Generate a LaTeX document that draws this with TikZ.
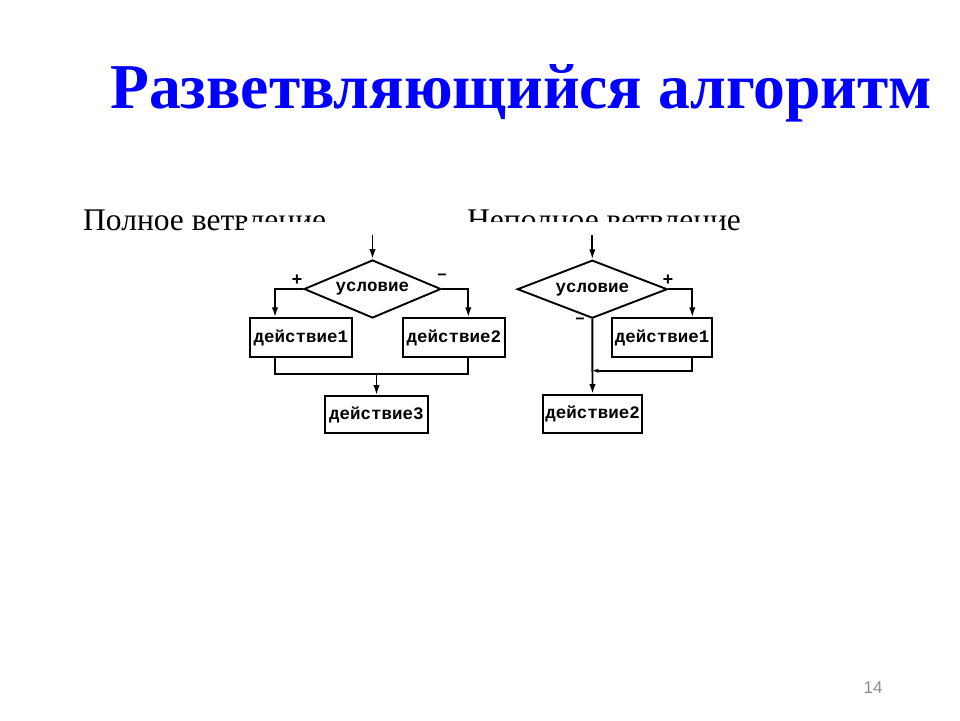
\documentclass[tikz,border=0pt]{standalone}
\usepackage{fontspec}
\setmainfont{Liberation Serif}
\newfontfamily\monof{Liberation Mono}
\newfontfamily\sansf{Liberation Sans}
\usetikzlibrary{shapes.geometric,arrows.meta}
\definecolor{titleblue}{RGB}{0,0,255}
\definecolor{pagegray}{RGB}{140,140,140}
\tikzset{
  lw/.style={line width=1.9pt},
  box/.style={draw,lw,inner sep=0pt,font=\monof\bfseries\fontsize{17.5}{18}\selectfont},
  dia/.style={draw,lw,diamond,inner sep=0pt,font=\monof\bfseries\fontsize{17.5}{18}\selectfont},
  arr/.style={lw,-{Latex[length=10pt,width=6.5pt]}},
  arrs/.style={lw,-{Latex[length=6pt,width=4.5pt]}},
  sign/.style={inner sep=0pt,font=\monof\bfseries\fontsize{18}{18}\selectfont},
  lbl/.style={anchor=base west,inner sep=0pt,font=\fontsize{31.5}{33}\selectfont}
}
\begin{document}
\begin{tikzpicture}[x=1pt,y=-1pt]
\useasboundingbox (0,0) rectangle (960,720);
\fill[white] (0,0) rectangle (960,720);
% title
\node[anchor=base west,inner sep=0pt,text=titleblue] (title) at (110,108)
  {\resizebox{822pt}{44pt}{\fontsize{65}{65}\selectfont\bfseries Разветвляющийся алгоритм}};
% section labels
\node[lbl] (l1) at (83,230) {Полное ветвление};
\node[lbl] (l2) at (467,230) {Неполное ветвление};
% white cover of the pasted picture
\fill[white] (244,222) rectangle (721,245);
% ---- full branching
\coordinate (in1) at (372.5,235);
\node[dia,aspect=2.36,minimum width=137pt,minimum height=58pt] (c1) at (372.5,289) {условие};
\node[box,minimum width=101.7pt,minimum height=38.5pt] (a1) at (300.8,337.5) {действие1};
\node[box,minimum width=101.7pt,minimum height=38.5pt] (a2) at (453.8,337.5) {действие2};
\node[box,minimum width=103pt,minimum height=37pt] (a3) at (376.5,414.5) {действие3};
\coordinate (m1) at (376.5,374);
\draw[arr] (in1) -- (c1.north);
\draw[arr] (c1.west) -| ([xshift=-25.8pt]a1.north);
\draw[arr] (c1.east) -| ([xshift=14.5pt]a2.north);
\draw[lw] ([xshift=-25.8pt]a1.south) |- (m1) -| ([xshift=14.5pt]a2.south);
\draw[arr] (m1) -- (a3.north);
\node[sign] (p1) at (297,280) {+};
\node[sign] (n1) at (442,277) {–};
% ---- partial branching
\coordinate (in2) at (592.3,235);
\node[dia,aspect=2.59,minimum width=150pt,minimum height=58pt] (c2) at (592.3,289.2) {условие};
\node[box,minimum width=100.6pt,minimum height=38.5pt] (b1) at (662,337.5) {действие1};
\node[box,minimum width=98.4pt,minimum height=37.7pt] (b2) at (592.5,413.8) {действие2};
\coordinate (j2) at (592.3,370.7);
\draw[arr] (in2) -- (c2.north);
\draw[arr] (c2.east) -| ([xshift=30.3pt]b1.north);
\draw[arr] (c2.south) -- (b2.north);
\draw[arrs] ([xshift=30.3pt]b1.south) |- (j2);
\node[sign] (p2) at (668,280) {+};
\node[sign] (n2) at (580,321) {–};
% page number
\node[inner sep=0pt,text=pagegray,font=\sansf\fontsize{17}{18}\selectfont] (pg) at (873,688) {14};
\end{tikzpicture}
\end{document}
